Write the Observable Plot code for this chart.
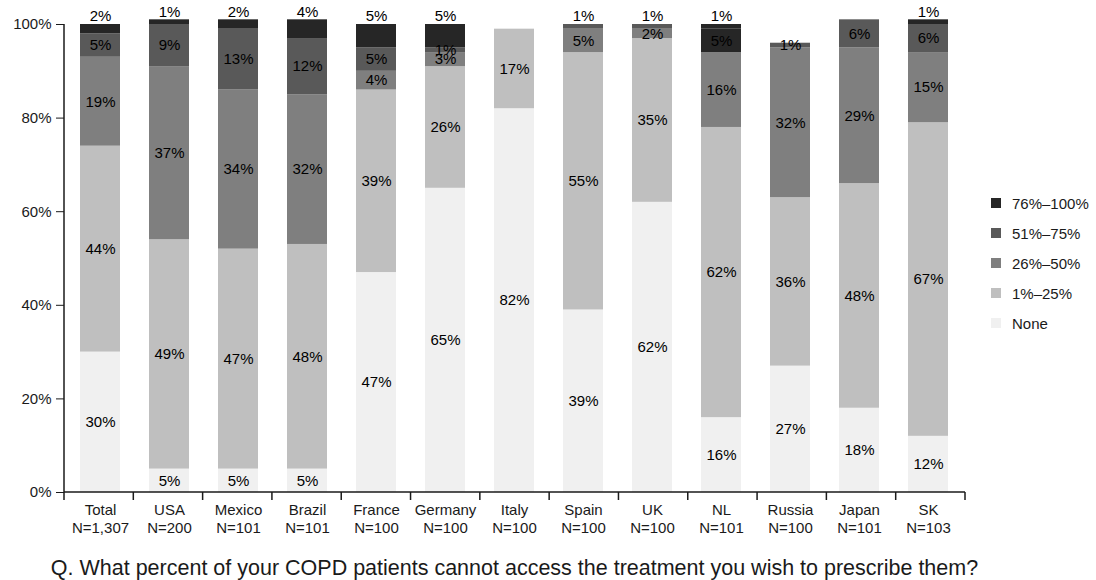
<!DOCTYPE html>
<html>
<head>
<meta charset="utf-8">
<script src="https://cdn.jsdelivr.net/npm/d3@7"></script>
<script src="https://cdn.jsdelivr.net/npm/@observablehq/plot@0.6"></script>
<style>
  body { margin: 0; background: #fff; font-family: "Liberation Sans", Arial, sans-serif; }
  #wrap { position: relative; width: 1096px; height: 580px; overflow: hidden; }
  #legend { position: absolute; left: 991px; top: 188px; }
  #legend .row { display: flex; align-items: center; height: 30px; font-size: 15px; color: #1a1a1a; }
  #legend .sw { width: 10px; height: 10px; margin-right: 11px; }
  #caption { position: absolute; left: 40px; width: 949px; top: 555px; text-align: center;
             font-size: 21.5px; line-height: 26px; color: #1a1a1a; white-space: nowrap; }
</style>
</head>
<body>
<div id="wrap">
  <div id="chart"></div>
  <div id="legend"></div>
  <div id="caption"></div>
</div>
<script>
// Survey groups and their sample sizes
const countries = ["Total", "USA", "Mexico", "Brazil", "France", "Germany", "Italy", "Spain", "UK", "NL", "Russia", "Japan", "SK"];
const sampleSizes = ["1,307", "200", "101", "101", "100", "100", "100", "100", "100", "101", "100", "101", "103"];

// Answer ranges, bottom of the stack first, and their grey shades
const ranges = ["None", "1%–25%", "26%–50%", "51%–75%", "76%–100%"];
const shades = ["#f0f0f0", "#bfbfbf", "#7f7f7f", "#595959", "#262626"];

// Share of respondents (%) per range, one value per group
const none       = [30,  5,  5,  5, 47, 65, 82, 39, 62, 16, 27, 18, 12];
const pct1to25   = [44, 49, 47, 48, 39, 26, 17, 55, 35, 62, 36, 48, 67];
const pct26to50  = [19, 37, 34, 32,  4,  3,  0,  5,  2, 16, 32, 29, 15];
const pct51to75  = [ 5,  9, 13, 12,  5,  1,  0,  1,  1,  5,  1,  6,  6];
const pct76to100 = [ 2,  1,  2,  4,  5,  5,  0,  0,  0,  1,  0,  0,  1];

// Groups whose thin 51%–75% label sits above the bar
const raisedMidLabels = ["Spain", "UK"];
// The NL 51%–75% block is printed in the darkest shade
const darkMidGroups = ["NL"];

const ticksY = [0, 20, 40, 60, 80, 100];
const captionText = "Q. What percent of your COPD patients cannot access the treatment you wish to prescribe them?";

const seriesValues = [none, pct1to25, pct26to50, pct51to75, pct76to100];

// Build stacked segments (skipping empty ones)
const segments = [];
countries.forEach((country, i) => {
  let base = 0;
  const total = seriesValues.reduce((s, arr) => s + arr[i], 0);
  ranges.forEach((range, k) => {
    const value = seriesValues[k][i];
    if (!value) return;
    const raised = k === 4 || (k === 3 && raisedMidLabels.includes(country));
    const fill = (k === 3 && darkMidGroups.includes(country)) ? shades[4] : shades[k];
    segments.push({country, range, value, y1: base, y2: base + value, raised, fill, top: Math.max(100, total)});
    base += value;
  });
});

// Axis lines: left spine, baseline and tick marks at the group boundaries
function axisLines(index, scales, values, dimensions) {
  const {width, height, marginLeft, marginRight, marginTop, marginBottom} = dimensions;
  const x0 = marginLeft, x1 = width - marginRight, yb = height - marginBottom;
  const step = (x1 - x0) / countries.length;
  const g = d3.create("svg:g").attr("stroke", "#1a1a1a").attr("stroke-width", 1.5).attr("fill", "none");
  g.append("line").attr("x1", x0).attr("x2", x0).attr("y1", marginTop).attr("y2", yb);
  g.append("line").attr("x1", x0).attr("x2", x1).attr("y1", yb).attr("y2", yb);
  for (let i = 0; i <= countries.length; i++) {
    const x = x0 + i * step;
    g.append("line").attr("x1", x).attr("x2", x).attr("y1", yb).attr("y2", yb + 8);
  }
  return g.node();
}

const chart = Plot.plot({
  width: 1096,
  height: 545,
  marginLeft: 64,
  marginRight: 131,
  marginTop: 24,
  marginBottom: 53,
  style: {fontFamily: '"Liberation Sans", Arial, sans-serif', fontSize: "15px", color: "#1a1a1a", background: "#fff"},
  x: {domain: countries, paddingInner: 0.42, paddingOuter: 0.21, label: null},
  y: {domain: [0, 100], label: null},
  color: {type: "identity"},
  marks: [
    Plot.barY(segments, {x: "country", y1: "y1", y2: "y2", fill: "fill"}),
    Plot.text(segments.filter(d => !d.raised), {
      x: "country", y: d => (d.y1 + d.y2) / 2, text: d => `${d.value}%`, fill: "#000", fontSize: 15
    }),
    Plot.text(segments.filter(d => d.raised), {
      x: "country", y: "top", dy: -8, text: d => `${d.value}%`, fill: "#000", fontSize: 15
    }),
    Plot.axisY({ticks: ticksY, tickFormat: d => `${d}%`, tickSize: 8, tickPadding: 5, label: null, fontSize: 15}),
    Plot.axisX({
      tickSize: 0, tickPadding: 10, label: null, fontSize: 15, lineHeight: 1.2,
      tickFormat: d => `${d}\nN=${sampleSizes[countries.indexOf(d)]}`
    }),
    axisLines
  ]
});
document.getElementById("chart").appendChild(chart);

// Legend: darkest range first
const legend = d3.select("#legend");
ranges.slice().reverse().forEach((r) => {
  const row = legend.append("div").attr("class", "row");
  row.append("div").attr("class", "sw").style("background", shades[ranges.indexOf(r)]);
  row.append("span").text(r);
});

document.getElementById("caption").textContent = captionText;
</script>
</body>
</html>
